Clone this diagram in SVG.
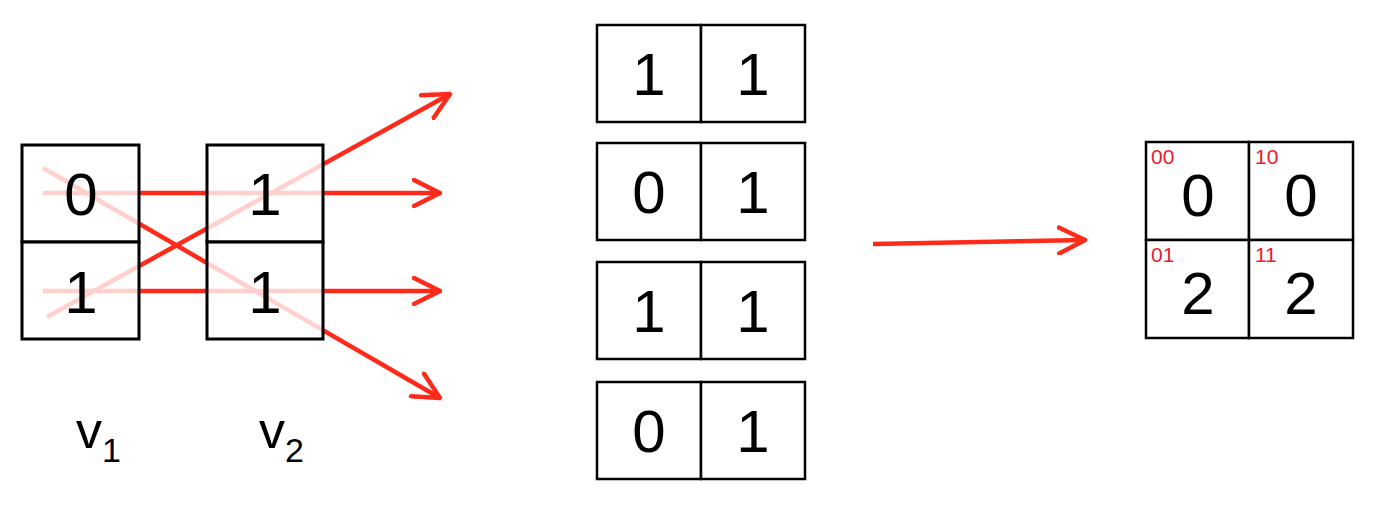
<svg xmlns="http://www.w3.org/2000/svg" width="1378" height="516" viewBox="0 0 1378 516">
<style>
.b{fill:#fff;fill-opacity:0.78;stroke:#000;stroke-width:3}
.c{fill:#fff;stroke:#000;stroke-width:2.5}
.t{font-family:"Liberation Sans",Arial,sans-serif;font-size:60px;text-anchor:middle;fill:#000}
.s{font-family:"Liberation Sans",Arial,sans-serif;font-size:21px;fill:#e8202a}
.v{font-family:"Liberation Sans",Arial,sans-serif;font-size:52px;fill:#000}
.l{stroke:#ff2a1a;stroke-width:4.5;fill:none}
</style>
<defs>
<marker id="h" viewBox="0 0 30 30" refX="28" refY="15" markerWidth="30" markerHeight="30" orient="auto" markerUnits="userSpaceOnUse"><path d="M2,2 L28,15 L2,28" fill="none" stroke="#ff2a1a" stroke-width="4.5" stroke-linecap="round"/></marker></defs>
<g id="connectors">
<line class="l" x1="43" y1="193" x2="440" y2="193" marker-end="url(#h)"/>
<line class="l" x1="43" y1="291" x2="440" y2="291" marker-end="url(#h)"/>
<line class="l" x1="47" y1="317" x2="450" y2="94" marker-end="url(#h)"/>
<line class="l" x1="43" y1="168" x2="440" y2="398" marker-end="url(#h)"/>
<line class="l" x1="873" y1="244" x2="1085" y2="240" marker-end="url(#h)"/>
</g>
<g id="v1"><rect class="b" x="22" y="145" width="117" height="97"/><rect class="b" x="22" y="242" width="117" height="97"/>
<text class="t" x="81" y="215">0</text><text class="t" x="81" y="313">1</text>
<text class="v" x="76" y="448">v<tspan font-size="34" dy="14">1</tspan></text></g>
<g id="v2"><rect class="b" x="207" y="145" width="116" height="97"/><rect class="b" x="207" y="242" width="116" height="97"/>
<text class="t" x="265" y="215">1</text><text class="t" x="265" y="313">1</text>
<text class="v" x="259" y="448">v<tspan font-size="34" dy="14">2</tspan></text></g>
<g id="m1"><rect class="c" x="597" y="25" width="104" height="97"/><rect class="c" x="701" y="25" width="104" height="97"/><text class="t" x="649" y="95">1</text><text class="t" x="753" y="95">1</text></g>
<g id="m2"><rect class="c" x="597" y="143" width="104" height="97"/><rect class="c" x="701" y="143" width="104" height="97"/><text class="t" x="649" y="213">0</text><text class="t" x="753" y="213">1</text></g>
<g id="m3"><rect class="c" x="597" y="262" width="104" height="97"/><rect class="c" x="701" y="262" width="104" height="97"/><text class="t" x="649" y="332">1</text><text class="t" x="753" y="332">1</text></g>
<g id="m4"><rect class="c" x="597" y="382" width="104" height="97"/><rect class="c" x="701" y="382" width="104" height="97"/><text class="t" x="649" y="452">0</text><text class="t" x="753" y="452">1</text></g>
<g id="grid">
<rect class="c" x="1146" y="142" width="103" height="98"/><rect class="c" x="1249" y="142" width="104" height="98"/>
<rect class="c" x="1146" y="240" width="103" height="98"/><rect class="c" x="1249" y="240" width="104" height="98"/>
<text class="s" x="1151" y="164">00</text><text class="s" x="1255" y="164">10</text>
<text class="s" x="1151" y="262">01</text><text class="s" x="1255" y="262">11</text>
<text class="t" x="1198" y="216">0</text><text class="t" x="1301" y="216">0</text>
<text class="t" x="1198" y="314">2</text><text class="t" x="1301" y="314">2</text>
</g>
</svg>
